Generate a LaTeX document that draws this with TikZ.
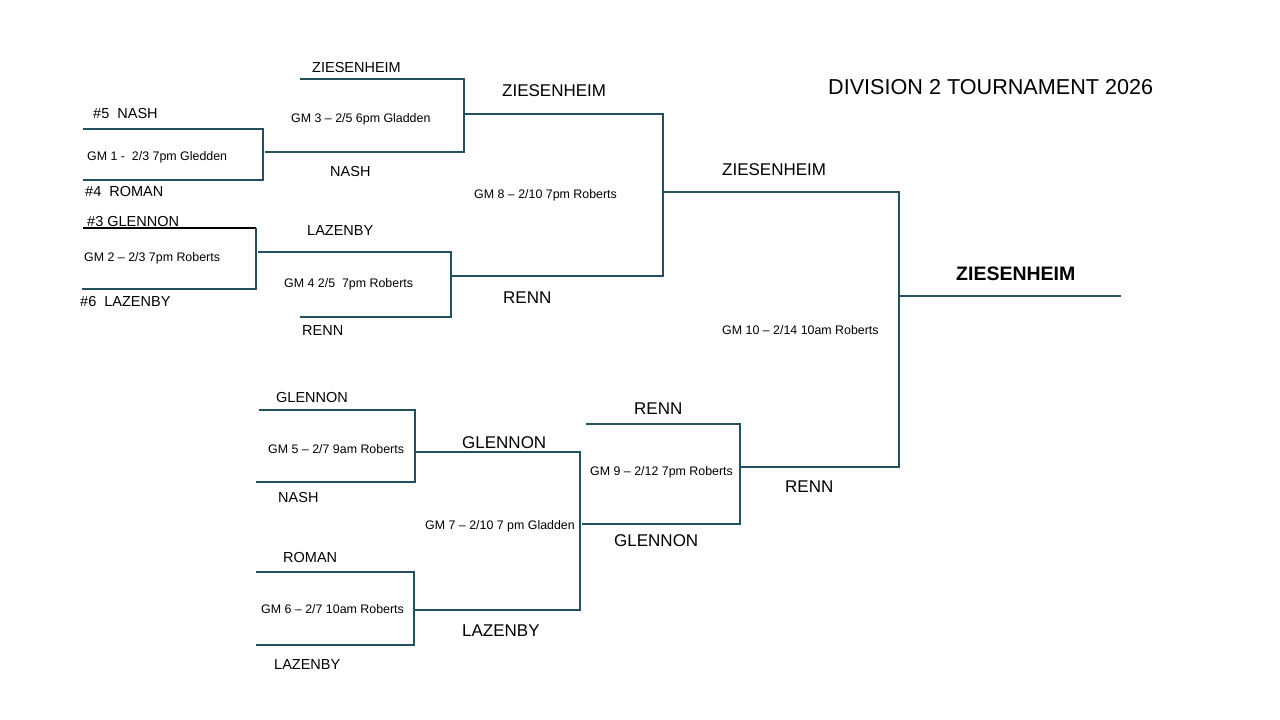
\documentclass[tikz,border=0pt]{standalone}
\usepackage{fontspec}
\setmainfont{Liberation Sans}
\definecolor{bracketline}{HTML}{22505F}
\tikzset{
  line/.style={draw=bracketline, line width=1.6pt},
  team/.style={anchor=west, inner sep=0pt, font=\fontsize{14.5}{16}\selectfont},
  winner/.style={anchor=west, inner sep=0pt, font=\fontsize{17}{19}\selectfont},
  game/.style={anchor=west, inner sep=0pt, font=\fontsize{12.4}{14}\selectfont},
}
\begin{document}
\begin{tikzpicture}[x=1pt,y=-1pt]
  \useasboundingbox (0,0) rectangle (1280,720);
  % corners of each game bracket
  \coordinate (g1a) at (83,129);  \coordinate (g1b) at (263,129);
  \coordinate (g1c) at (263,180); \coordinate (g1d) at (83,180);
  \coordinate (g2a) at (83,228);  \coordinate (g2b) at (256,228);
  \coordinate (g2c) at (256,289); \coordinate (g2d) at (82,289);
  \coordinate (g3a) at (300,79);  \coordinate (g3b) at (464,79);
  \coordinate (g3c) at (464,152); \coordinate (g3d) at (265,152);
  \coordinate (g4a) at (258,252); \coordinate (g4b) at (451,252);
  \coordinate (g4c) at (451,317); \coordinate (g4d) at (300,317);
  \coordinate (g5a) at (259,410); \coordinate (g5b) at (415,410);
  \coordinate (g5c) at (415,482); \coordinate (g5d) at (256,482);
  \coordinate (g6a) at (256,572); \coordinate (g6b) at (414,572);
  \coordinate (g6c) at (414,645); \coordinate (g6d) at (256,645);
  \coordinate (g7a) at (415,452); \coordinate (g7b) at (580,452);
  \coordinate (g7c) at (580,610); \coordinate (g7d) at (414,610);
  \coordinate (g8a) at (464,114); \coordinate (g8b) at (663,114);
  \coordinate (g8c) at (663,276); \coordinate (g8d) at (451,276);
  \coordinate (g9a) at (586,424); \coordinate (g9b) at (740,424);
  \coordinate (g9c) at (740,524); \coordinate (g9d) at (582,524);
  \coordinate (g10a) at (663,192); \coordinate (g10b) at (899,192);
  \coordinate (g10c) at (899,467); \coordinate (g10d) at (740,467);
  \coordinate (champ) at (899,296); \coordinate (champend) at (1121,296);

  \draw[line] (g1a) -- (g1b) -- (g1c) -- (g1d);
  \draw[black, line width=1.6pt] (g2a) -- (g2b);
  \draw[line] (g2b) -- (g2c) -- (g2d);
  \foreach \g in {3,...,10}
    \draw[line] (g\g a) -- (g\g b) -- (g\g c) -- (g\g d);
  \draw[line] (champ) -- (champend);

  % title
  \node[anchor=west, inner sep=0pt, font=\fontsize{21.6}{26}\selectfont] (title) at (828,87) {DIVISION 2 TOURNAMENT 2026};

  % first round, top
  \node[team] (seed5) at (93,114) {\#5\ \ NASH};
  \node[game] (gm1) at (87,157) {GM 1 -\ \ 2/3 7pm Gledden};
  \node[team] (seed4) at (85,192) {\#4\ \ ROMAN};
  \node[team] (seed3) at (87,222) {\#3 GLENNON};
  \node[game] (gm2) at (84,258) {GM 2 – 2/3 7pm Roberts};
  \node[team] (seed6) at (80,302) {\#6\ \ LAZENBY};

  % quarterfinals, top
  \node[team] (q3top) at (312,68) {ZIESENHEIM};
  \node[game] (gm3) at (291,119) {GM 3 – 2/5 6pm Gladden};
  \node[team] (q3bot) at (330,172) {NASH};
  \node[team] (q4top) at (307,231) {LAZENBY};
  \node[game] (gm4) at (284,284) {GM 4 2/5\ \ 7pm Roberts};
  \node[team] (q4bot) at (302,331) {RENN};

  % semifinal, top
  \node[winner] (w3) at (502,91) {ZIESENHEIM};
  \node[game] (gm8) at (474,195) {GM 8 – 2/10 7pm Roberts};
  \node[winner] (w4) at (503,298) {RENN};

  % quarterfinals, bottom
  \node[team] (q5top) at (276,398) {GLENNON};
  \node[game] (gm5) at (268,449) {GM 5 – 2/7 9am Roberts};
  \node[team] (q5bot) at (278,498) {NASH};
  \node[team] (q6top) at (283,558) {ROMAN};
  \node[game] (gm6) at (261,609) {GM 6 – 2/7 10am Roberts};
  \node[team] (q6bot) at (274,665) {LAZENBY};

  % semifinals, bottom
  \node[winner] (w5) at (462,443) {GLENNON};
  \node[game] (gm7) at (425,526) {GM 7 – 2/10 7 pm Gladden};
  \node[winner] (w6) at (462,631) {LAZENBY};
  \node[winner] (w9top) at (634,409) {RENN};
  \node[game] (gm9) at (590,472) {GM 9 – 2/12 7pm Roberts};
  \node[winner] (w7) at (614,541) {GLENNON};

  % final
  \node[winner] (w8) at (722,170) {ZIESENHEIM};
  \node[winner] (w9) at (785,487) {RENN};
  \node[game] (gm10) at (722,330) {GM 10 – 2/14 10am Roberts};
  \node[anchor=west, inner sep=0pt, font=\fontsize{19.5}{22}\selectfont\bfseries] (champion) at (956,274) {ZIESENHEIM};
\end{tikzpicture}
\end{document}
